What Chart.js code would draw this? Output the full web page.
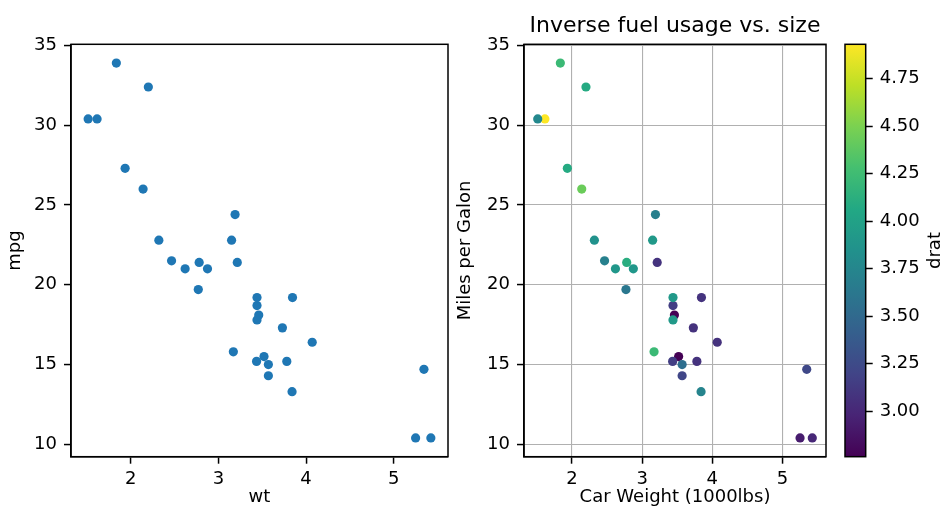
<!DOCTYPE html>
<html>
<head>
<meta charset="utf-8">
<script src="https://cdn.jsdelivr.net/npm/chart.js@4/dist/chart.umd.min.js"></script>
<style>
  html, body { margin: 0; padding: 0; background: #fff; }
  #wrap { position: relative; width: 944px; height: 512px; overflow: hidden; }
  canvas { position: absolute; top: 0; }
</style>
</head>
<body>
<div id="wrap">
  <canvas id="c1" width="470" height="512" style="left:0px"></canvas>
  <canvas id="c2" width="390" height="512" style="left:450px"></canvas>
  <canvas id="c3" width="104" height="512" style="left:840px"></canvas>
</div>
<script>
// mtcars: car weight (1000 lbs), miles per gallon, rear axle ratio
const wt   = [2.620, 2.875, 2.320, 3.215, 3.440, 3.460, 3.570, 3.190, 3.150, 3.440, 3.440, 4.070, 3.730, 3.780, 5.250, 5.424, 5.345, 2.200, 1.615, 1.835, 2.465, 3.520, 3.435, 3.840, 3.845, 1.935, 2.140, 1.513, 3.170, 2.770, 3.570, 2.780];
const mpg  = [21.0, 21.0, 22.8, 21.4, 18.7, 18.1, 14.3, 24.4, 22.8, 19.2, 17.8, 16.4, 17.3, 15.2, 10.4, 10.4, 14.7, 32.4, 30.4, 33.9, 21.5, 15.5, 15.2, 13.3, 19.2, 27.3, 26.0, 30.4, 15.8, 19.7, 15.0, 21.4];
const drat = [3.90, 3.90, 3.85, 3.08, 3.15, 2.76, 3.21, 3.69, 3.92, 3.92, 3.92, 3.07, 3.07, 3.07, 2.93, 3.00, 3.23, 4.08, 4.93, 4.22, 3.70, 2.76, 3.15, 3.73, 3.08, 4.08, 4.43, 3.77, 4.22, 3.62, 3.54, 4.11];
const xTicks = [2, 3, 4, 5];
const yTicks = [10, 15, 20, 25, 30, 35];
const cbarTicks = [3.00, 3.25, 3.50, 3.75, 4.00, 4.25, 4.50, 4.75];

const viridis = ['#440154','#482475','#414487','#355f8d','#2a788e','#21918c','#22a884','#44bf70','#7ad151','#bddf26','#fde725'];

function hexToRgb(h) { return [parseInt(h.slice(1,3),16), parseInt(h.slice(3,5),16), parseInt(h.slice(5,7),16)]; }
function cmap(t) {
  t = Math.max(0, Math.min(1, t));
  const n = viridis.length - 1;
  const i = Math.min(Math.floor(t * n), n - 1);
  const f = t * n - i;
  const a = hexToRgb(viridis[i]), b = hexToRgb(viridis[i + 1]);
  const c = a.map((v, k) => Math.round(v + (b[k] - v) * f));
  return 'rgb(' + c.join(',') + ')';
}

const dMin = Math.min(...drat), dMax = Math.max(...drat);
const pad = (lo, hi) => { const r = hi - lo; return [lo - 0.05 * r, hi + 0.05 * r]; };
const [xMin, xMax] = pad(Math.min(...wt), Math.max(...wt));
const [yMin, yMax] = pad(Math.min(...mpg), Math.max(...mpg));

const points = wt.map((w, i) => ({ x: w, y: mpg[i] }));
const colors = drat.map(d => cmap((d - dMin) / (dMax - dMin)));

Chart.defaults.font.family = "'DejaVu Sans', sans-serif";
Chart.defaults.font.size = 18;
Chart.defaults.color = '#000';
Chart.defaults.animation = false;

const frame = {
  id: 'frame',
  afterDraw(chart) {
    const { ctx, chartArea: a } = chart;
    ctx.save();
    ctx.strokeStyle = '#000';
    ctx.lineWidth = 1.5;
    ctx.strokeRect(a.left, a.top, a.right - a.left, a.bottom - a.top);
    ctx.restore();
  }
};

function axes(xTitle, yTitle, grid) {
  const gridOpts = (on) => ({
    display: true,
    drawOnChartArea: on,
    drawTicks: true,
    tickLength: 7,
    tickColor: '#000',
    tickWidth: 1.5,
    color: '#b0b0b0',
    lineWidth: 1.1
  });
  return {
    x: {
      type: 'linear', min: xMin, max: xMax, bounds: 'data',
      afterBuildTicks: s => { s.ticks = xTicks.map(v => ({ value: v })); },
      afterFit: s => { s.height = 55.3; },
      ticks: { padding: 5, maxRotation: 0, callback: v => String(v) },
      grid: gridOpts(grid),
      border: { display: true, color: '#000', width: 1.5 },
      title: { display: true, text: xTitle, padding: { top: 0, bottom: 4 }, font: { size: 18 } }
    },
    y: {
      type: 'linear', min: yMin, max: yMax, bounds: 'data',
      afterBuildTicks: s => { s.ticks = yTicks.map(v => ({ value: v })); },
      afterFit: s => { s.width = s.chart.canvas.id === 'c1' ? 71 : 74; },
      ticks: { padding: 7, callback: v => String(v) },
      grid: gridOpts(grid),
      border: { display: true, color: '#000', width: 1.5 },
      title: { display: true, text: yTitle, padding: { top: 5, bottom: 0 }, font: { size: 18 } }
    }
  };
}

new Chart(document.getElementById('c1'), {
  type: 'scatter',
  data: { datasets: [{ data: points, backgroundColor: '#1f77b4', borderWidth: 0, pointRadius: 4.6, pointHoverRadius: 4.6 }] },
  options: {
    responsive: false, devicePixelRatio: 1,
    layout: { padding: { left: 0, top: 44.3, right: 22, bottom: 0 } },
    plugins: { legend: { display: false }, tooltip: { enabled: false } },
    scales: axes('wt', 'mpg', false)
  },
  plugins: [frame]
});

new Chart(document.getElementById('c2'), {
  type: 'scatter',
  data: { datasets: [{ data: points, backgroundColor: colors, borderWidth: 0, pointRadius: 4.6, pointHoverRadius: 4.6 }] },
  options: {
    responsive: false, devicePixelRatio: 1,
    layout: { padding: { left: 0, top: 0, right: 14, bottom: 0 } },
    plugins: {
      legend: { display: false }, tooltip: { enabled: false },
      title: { display: true, text: 'Inverse fuel usage vs. size', fullSize: false, color: '#000',
               font: { size: 22, weight: 'normal' }, padding: { top: 13, bottom: 4.9 } }
    },
    scales: axes('Car Weight (1000lbs)', 'Miles per Galon', true)
  },
  plugins: [frame]
});

const cbar = {
  id: 'cbar',
  beforeDatasetsDraw(chart) {
    const { ctx, chartArea: a, scales: { y } } = chart;
    const g = ctx.createLinearGradient(0, y.getPixelForValue(dMin), 0, y.getPixelForValue(dMax));
    viridis.forEach((c, i) => g.addColorStop(i / (viridis.length - 1), c));
    ctx.save();
    ctx.fillStyle = g;
    ctx.fillRect(a.left, a.top, a.right - a.left, a.bottom - a.top);
    ctx.restore();
  },
  afterDraw(chart) {
    const { ctx, chartArea: a } = chart;
    ctx.save();
    ctx.strokeStyle = '#000';
    ctx.lineWidth = 1.5;
    ctx.strokeRect(a.left, a.top, a.right - a.left, a.bottom - a.top);
    ctx.translate(95, (a.top + a.bottom) / 2);
    ctx.rotate(-Math.PI / 2);
    ctx.fillStyle = '#000';
    ctx.font = "18px 'DejaVu Sans'";
    ctx.textAlign = 'center';
    ctx.textBaseline = 'middle';
    ctx.fillText('drat', 0, 0);
    ctx.restore();
  }
};

new Chart(document.getElementById('c3'), {
  type: 'scatter',
  data: { datasets: [{ data: [], pointRadius: 0 }] },
  options: {
    responsive: false, devicePixelRatio: 1,
    layout: { padding: { left: 5, top: 44.3, right: 0, bottom: 55.3 } },
    plugins: { legend: { display: false }, tooltip: { enabled: false } },
    scales: {
      x: { type: 'linear', display: false, min: 0, max: 1 },
      y: {
        type: 'linear', position: 'right', min: dMin, max: dMax, bounds: 'data',
        afterBuildTicks: s => { s.ticks = cbarTicks.map(v => ({ value: v })); },
        afterFit: s => { s.width = 78.3; },
        ticks: { padding: 7, callback: v => Number(v).toFixed(2) },
        grid: { display: true, drawOnChartArea: false, drawTicks: true, tickLength: 7, tickColor: '#000', tickWidth: 1.5 },
        border: { display: false }
      }
    }
  },
  plugins: [cbar]
});
</script>
</body>
</html>
